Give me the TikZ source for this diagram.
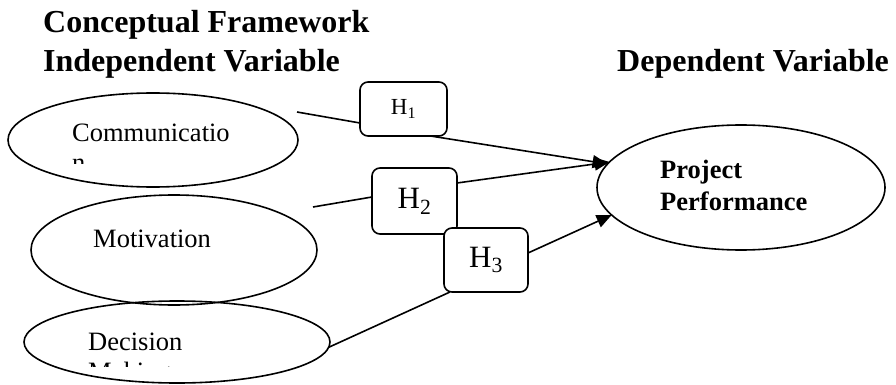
\documentclass[tikz,border=0pt]{standalone}
\usepackage{fontspec}
\setmainfont{Liberation Serif}
\usetikzlibrary{arrows.meta,calc,shapes.geometric}

\tikzset{
  oval/.style={draw, ellipse, line width=1.6pt, inner sep=0pt, outer sep=0pt},
  hbox/.style={draw, fill=white, rounded corners=8pt, line width=1.6pt, inner sep=0pt, outer sep=0pt},
  link/.style={line width=1.6pt},
  flow/.style={line width=1.6pt, -{Triangle[length=15pt,width=13pt]}},
  title/.style={anchor=base west, inner sep=0pt, font=\fontsize{32}{36}\selectfont\bfseries},
  body/.style={anchor=base west, inner sep=0pt, font=\fontsize{26.5}{30}\selectfont},
}

\begin{document}
\begin{tikzpicture}[x=1pt, y=-1pt]
\useasboundingbox (0,0) rectangle (896,385);

% headings
\node[title] (t1) at (43,33) {Conceptual Framework};
\node[title] (t2) at (43,72) {Independent Variable};
\node[title] (t3) at (617,72) {Dependent Variable};

% independent variables
\node[oval, minimum width=290pt, minimum height=94pt] (com) at (153,140) {};
\node[oval, minimum width=286pt, minimum height=110pt] (mot) at (174,250) {};
\node[oval, minimum width=306pt, minimum height=82pt] (dm) at (177,342) {};

% dependent variable
\node[oval, minimum width=288pt, minimum height=125pt] (pp) at (741,187.5) {};

% texts of the ovals (second lines cut off by their text frames)
\begin{scope}
  \clip (60,110) rectangle (260,163.5);
  \node[body] (comtxt) at (72,142) {Communicatio};
  \node[body] (comtxt2) at (72,171) {n};
\end{scope}
\node[body] (mottxt) at (93,247) {Motivation};
\begin{scope}
  \clip (70,320) rectangle (300,366.5);
  \node[body] (dmtxt) at (88,350) {Decision};
  \node[body] (dmtxt2) at (88,380) {Making};
\end{scope}
\node[body, font=\fontsize{26.5}{30}\selectfont\bfseries] (pptxt1) at (660,178) {Project};
\node[body, font=\fontsize{26.5}{30}\selectfont\bfseries] (pptxt2) at (660,210) {Performance};

% hypothesis boxes
\node[hbox, minimum width=87pt, minimum height=54pt, font=\fontsize{23}{24}\selectfont] (h1) at (403.5,109) {H\textsubscript{1}};
\node[hbox, minimum width=85pt, minimum height=66pt, font=\fontsize{31}{34}\selectfont] (h2) at (414.5,201) {H\textsubscript{2}};
\node[hbox, minimum width=84pt, minimum height=64pt, font=\fontsize{31}{34}\selectfont] (h3) at (486,260) {H\textsubscript{3}};

% free ends of the first two paths
\coordinate (s1) at (297,112);
\coordinate (s2) at (313,207);

% paths
\draw[link] (s1) -- ($(h1.south west)+(0,-13)$);
\draw[flow] ($(h1.south)+(27,0)$) -- (pp.170.5);
\draw[link] (s2) -- ($(h2.west)+(0,-4)$);
\draw[flow] ($(h2.east)+(0,-18)$) -- (pp.169);
\draw[link] (dm.358) -- ($(h3.south west)+(6,0)$);
\draw[flow] ($(h3.east)+(0,-7)$) -- (pp.192);
\end{tikzpicture}
\end{document}
